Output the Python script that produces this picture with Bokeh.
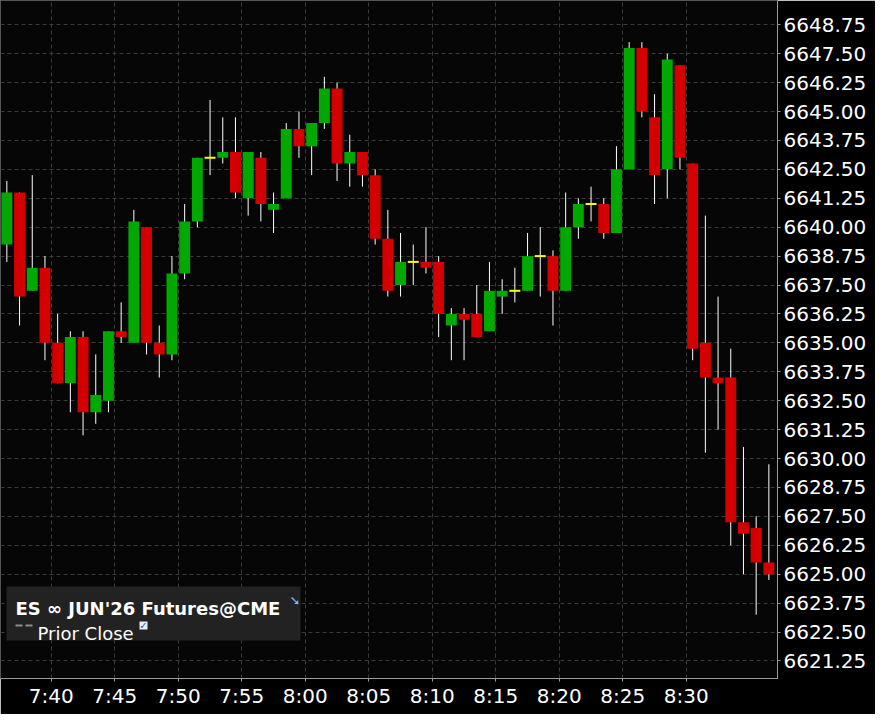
from bokeh.plotting import figure
from bokeh.models import (ColumnDataSource, FixedTicker, Range1d, BoxAnnotation,
                          Label, NumeralTickFormatter)
from bokeh.embed import file_html
from bokeh.resources import INLINE

# ---------------- data (1-minute bars, 7:36 .. 8:36) ----------------
times = [f"{7 + (36 + i) // 60}:{(36 + i) % 60:02d}" for i in range(61)]

opens = [6639.25, 6641.5, 6637.25, 6638.25, 6635.0, 6633.25, 6635.25, 6632.0, 6632.5, 6635.5,
         6635.0, 6640.0, 6635.0, 6634.5, 6638.0, 6640.25, 6643.0, 6643.0, 6643.25, 6641.25,
         6643.0, 6640.75, 6641.25, 6644.25, 6643.5, 6644.5, 6646.0, 6642.75, 6643.25, 6642.25,
         6639.5, 6637.5, 6638.5, 6638.5, 6638.5, 6635.75, 6636.25, 6636.25, 6635.5, 6637.0,
         6637.25, 6637.25, 6638.75, 6638.75, 6637.25, 6640.0, 6641.0, 6641.0, 6639.75, 6642.5,
         6647.75, 6644.75, 6642.5, 6647.0, 6642.75, 6635.0, 6633.5, 6633.5, 6627.25, 6627.0,
         6625.5]
highs = [6642.0, 6641.5, 6642.25, 6638.75, 6636.25, 6635.5, 6635.5, 6634.5, 6635.5, 6636.75,
         6640.75, 6640.0, 6635.75, 6638.75, 6641.0, 6643.0, 6645.5, 6644.75, 6644.75, 6643.25,
         6643.25, 6641.5, 6644.5, 6645.0, 6644.5, 6646.5, 6646.25, 6644.0, 6643.25, 6642.5,
         6640.75, 6639.75, 6639.25, 6640.0, 6638.75, 6636.5, 6636.5, 6637.5, 6638.5, 6637.75,
         6638.25, 6639.75, 6640.0, 6639.0, 6641.5, 6641.25, 6641.75, 6641.25, 6643.5, 6648.0,
         6648.0, 6645.75, 6647.5, 6647.0, 6642.75, 6640.5, 6637.0, 6634.75, 6630.5, 6627.5,
         6629.75]
lows = [6638.5, 6635.75, 6637.25, 6634.25, 6633.25, 6632.0, 6631.0, 6631.5, 6632.0, 6635.0,
        6635.0, 6634.5, 6633.5, 6634.25, 6637.75, 6640.0, 6642.25, 6642.75, 6641.25, 6640.5,
        6640.25, 6639.75, 6641.25, 6643.0, 6642.25, 6644.25, 6642.0, 6641.75, 6641.75, 6639.25,
        6637.0, 6637.0, 6637.5, 6638.0, 6635.25, 6634.25, 6634.25, 6635.25, 6635.5, 6636.25,
        6636.75, 6637.25, 6637.0, 6635.75, 6637.25, 6639.5, 6640.25, 6639.5, 6639.75, 6642.5,
        6644.75, 6641.0, 6641.25, 6642.5, 6634.25, 6630.25, 6631.25, 6626.25, 6625.0, 6623.25,
        6624.75]
closes = [6641.5, 6637.0, 6638.25, 6635.0, 6633.25, 6635.25, 6632.0, 6632.75, 6635.5, 6635.25,
          6640.25, 6635.0, 6634.5, 6638.0, 6640.25, 6643.0, 6643.0, 6643.25, 6641.5, 6643.25,
          6641.0, 6641.0, 6644.25, 6643.5, 6644.5, 6646.0, 6642.75, 6643.25, 6642.25, 6639.5,
          6637.25, 6638.5, 6638.5, 6638.25, 6636.25, 6636.25, 6636.0, 6635.25, 6637.25, 6637.25,
          6637.25, 6638.75, 6638.75, 6637.25, 6640.0, 6641.0, 6641.0, 6639.75, 6642.5, 6647.75,
          6645.0, 6642.25, 6647.25, 6643.0, 6634.75, 6633.5, 6633.25, 6627.25, 6626.75, 6625.5,
          6625.0]

x_tick_labels = ["7:40", "7:45", "7:50", "7:55", "8:00", "8:05", "8:10",
                 "8:15", "8:20", "8:25", "8:30"]
y_tick_values = [6621.25, 6622.50, 6623.75, 6625.00, 6626.25, 6627.50, 6628.75,
                 6630.00, 6631.25, 6632.50, 6633.75, 6635.00, 6636.25, 6637.50,
                 6638.75, 6640.00, 6641.25, 6642.50, 6643.75, 6645.00, 6646.25,
                 6647.50, 6648.75]

title_text = "ES \u221e JUN'26 Futures@CME"
item_text = "Prior Close"

START = 7 * 60 + 36


def to_min(t):
    h, m = t.split(":")
    return int(h) * 60 + int(m) - START


xs = [to_min(t) + 0.5 for t in times]

up = dict(x=[], o=[], c=[])
dn = dict(x=[], o=[], c=[])
dj = dict(x=[], c=[])
for xv, o, c in zip(xs, opens, closes):
    if c > o:
        up["x"].append(xv); up["o"].append(o); up["c"].append(c)
    elif c < o:
        dn["x"].append(xv); dn["o"].append(o); dn["c"].append(c)
    else:
        dj["x"].append(xv); dj["c"].append(c)

wick_src = ColumnDataSource(dict(x=xs, h=highs, l=lows))

# ---------------- figure ----------------
FONT = "DejaVu Sans"
p = figure(width=875, height=714, output_backend="svg", toolbar_location=None,
           x_range=Range1d(0, 61.18), y_range=Range1d(6620.49, 6649.80),
           y_axis_location="right",
           min_border_left=0, min_border_top=0, min_border_right=98, min_border_bottom=36,
           background_fill_color="#060606", border_fill_color="#000000",
           outline_line_color="#555555")

x_ticks = [to_min(t) for t in x_tick_labels]
p.xaxis.ticker = FixedTicker(ticks=x_ticks)
p.xaxis.major_label_overrides = {t: lab for t, lab in zip(x_ticks, x_tick_labels)}
p.yaxis.ticker = FixedTicker(ticks=y_tick_values)
p.yaxis.formatter = NumeralTickFormatter(format="0.00")

for ax in (p.xaxis, p.yaxis):
    ax.axis_line_color = "#9a9a9a"
    ax.major_tick_line_color = "#9a9a9a"
    ax.major_tick_out = 3
    ax.major_tick_in = 0
    ax.minor_tick_line_color = None
    ax.major_label_text_color = "#ffffff"
    ax.major_label_text_font = FONT
    ax.major_label_text_font_size = "20px"
    ax.major_label_standoff = 3
p.xaxis.major_label_standoff = 2

p.grid.grid_line_color = "#3a3a3a"
p.grid.grid_line_dash = "4 3"
p.grid.grid_line_width = 1

# wicks
p.segment(x0="x", y0="l", x1="x", y1="h", source=wick_src, line_color="#ffffff", line_width=1)
# bodies
p.vbar(x="x", width=0.86, top="c", bottom="o", source=ColumnDataSource(up),
       fill_color="#00a800", line_color=None)
p.vbar(x="x", width=0.86, top="o", bottom="c", source=ColumnDataSource(dn),
       fill_color="#d40000", line_color=None)
p.rect(x="x", y="c", width=0.86, height=2, height_units="screen",
       source=ColumnDataSource(dj), fill_color="#ffff00", line_color=None)

# ---------------- legend panel (screen units, from frame bottom-left) ----------------
def sbox(left, right, bottom, top, color):
    return BoxAnnotation(left=left, right=right, bottom=bottom, top=top,
                         left_units="screen", right_units="screen",
                         bottom_units="screen", top_units="screen",
                         fill_color=color, fill_alpha=1.0, line_color=None,
                         level="overlay")


p.add_layout(sbox(6, 300, 38, 92, "#222222"))
p.add_layout(Label(x=15, y=70, x_units="screen", y_units="screen", text=title_text,
                   text_font=FONT, text_font_size="18px", text_font_style="bold",
                   text_color="#ffffff", text_baseline="alphabetic", level="overlay"))
p.add_layout(Label(x=289, y=71, x_units="screen", y_units="screen", text="\u2798",
                   text_font=FONT, text_font_size="13px", text_color="#7fb6ea",
                   text_baseline="bottom", level="overlay"))
for l0 in (15, 25):
    p.add_layout(sbox(l0, l0 + 7, 52, 54, "#8c8c8c"))
p.add_layout(Label(x=37, y=45, x_units="screen", y_units="screen", text=item_text,
                   text_font=FONT, text_font_size="18px", text_color="#ffffff",
                   text_baseline="alphabetic", level="overlay"))
p.add_layout(sbox(139, 147, 49, 57, "#e8eef6"))
p.add_layout(Label(x=143, y=53, x_units="screen", y_units="screen", text="\u2713",
                   text_font=FONT, text_font_size="10px", text_font_style="bold",
                   text_color="#1a66cc", text_align="center", text_baseline="middle",
                   level="overlay"))

open("out.html", "w").write(file_html(p, INLINE))
